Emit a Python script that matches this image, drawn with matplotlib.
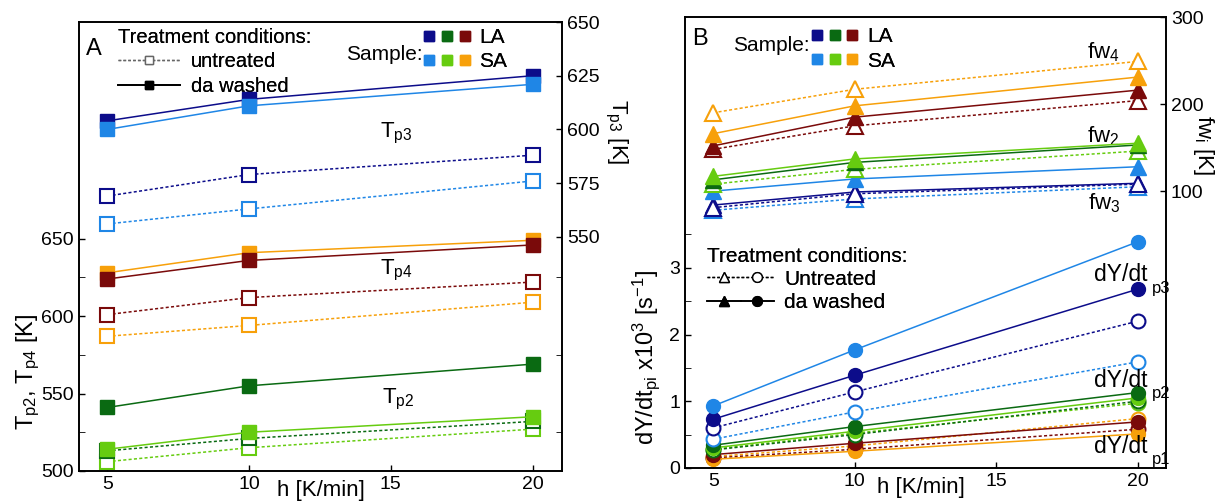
import matplotlib
matplotlib.use("Agg")
import matplotlib.pyplot as plt
from matplotlib.lines import Line2D
from matplotlib.legend_handler import HandlerTuple

plt.rcParams['font.family'] = ['Liberation Sans', 'DejaVu Sans']
plt.rcParams['mathtext.fontset'] = 'custom'
plt.rcParams['mathtext.rm'] = 'Liberation Sans'
plt.rcParams['mathtext.it'] = 'Liberation Sans'

# heating rates
h = [5, 10, 20]

# sample colours: LA (dark) and SA (light)
la_colors = ['#0c0c8a', '#0a6a12', '#7a0a0a']
sa_colors = ['#1f86e6', '#66cc10', '#f7a00a']

# Panel A: peak temperatures [K]
tp3_la_washed = [604, 614, 625]
tp3_sa_washed = [600, 611, 621]
tp3_la_untreated = [569, 579, 588]
tp3_sa_untreated = [556, 563, 576]
tp4_la_washed = [624, 636, 646]
tp4_sa_washed = [628, 641, 649]
tp4_la_untreated = [601, 612, 622]
tp4_sa_untreated = [587, 594, 609]
tp2_la_washed = [541, 555, 569]
tp2_sa_washed = [514, 525, 535]
tp2_la_untreated = [513, 521, 532]
tp2_sa_untreated = [506, 515, 527]

# Panel B: peak widths fw [K]
fw4_la_washed = [152, 185, 216]
fw4_sa_washed = [166, 198, 231]
fw4_la_untreated = [148, 175, 204]
fw4_sa_untreated = [190, 217, 249]
fw2_la_washed = [113, 133, 153]
fw2_sa_washed = [117, 137, 155]
fw2_sa_untreated = [108, 125, 146]
fw3_la_washed = [84, 99, 109]
fw3_sa_washed = [100, 114, 128]
fw3_la_untreated = [81, 97, 108]
fw3_sa_untreated = [78, 91, 105]

# Panel B: max rates dY/dt x10^3 [1/s]
dp3_la_washed = [0.73, 1.39, 2.68]
dp3_sa_washed = [0.93, 1.77, 3.39]
dp3_la_untreated = [0.60, 1.14, 2.20]
dp3_sa_untreated = [0.43, 0.84, 1.59]
dp2_la_washed = [0.34, 0.62, 1.13]
dp2_sa_washed = [0.30, 0.55, 1.05]
dp2_la_untreated = [0.27, 0.50, 1.00]
dp2_sa_untreated = [0.28, 0.52, 0.97]
dp1_la_washed = [0.20, 0.37, 0.69]
dp1_sa_washed = [0.13, 0.25, 0.51]
dp1_la_untreated = [0.15, 0.28, 0.58]
dp1_sa_untreated = [0.17, 0.33, 0.74]

FS = 14
LEG = 14.5
LFS = 16
MS = 10


def washed(ax, y, c, m, ms=MS):
    ax.plot(h, y, '-', color=c, lw=1.1, marker=m, ms=ms, mfc=c, mec=c, zorder=3)


def untreated(ax, y, c, m, ms=MS):
    ax.plot(h, y, linestyle=(0, (2, 1.5)), color=c, lw=1.1, marker=m, ms=ms,
            mfc='white', mec=c, mew=1.5, zorder=3)


def style(ax):
    ax.tick_params(direction='in', length=4, labelsize=FS, width=1)
    for s in ax.spines.values():
        s.set_linewidth(1.2)


def sample_legend(ax, anchor):
    sq = lambda c: Line2D([], [], linestyle='none', marker='s', ms=7.5, mfc=c, mec=c)
    hs = [tuple(sq(c) for c in la_colors), tuple(sq(c) for c in sa_colors)]
    return ax.legend(hs, ['LA', 'SA'], loc='upper left', bbox_to_anchor=anchor,
                     frameon=False, fontsize=LEG + 0.5, handlelength=2.3,
                     handletextpad=0.4, labelspacing=0.25, borderaxespad=0.1,
                     handler_map={tuple: HandlerTuple(ndivide=None, pad=0.25)})


fig = plt.figure(figsize=(12.24, 5.01), dpi=100)

# ---------------- Panel A ----------------
axA = fig.add_axes([0.0645, 0.060, 0.395, 0.896])
axA2 = axA.twinx()

untreated(axA, tp2_sa_untreated, sa_colors[1], 's')
untreated(axA, tp2_la_untreated, la_colors[1], 's')
washed(axA, tp2_sa_washed, sa_colors[1], 's')
washed(axA, tp2_la_washed, la_colors[1], 's')
untreated(axA, tp4_sa_untreated, sa_colors[2], 's')
untreated(axA, tp4_la_untreated, la_colors[2], 's')
washed(axA, tp4_sa_washed, sa_colors[2], 's')
washed(axA, tp4_la_washed, la_colors[2], 's')

untreated(axA2, tp3_sa_untreated, sa_colors[0], 's')
untreated(axA2, tp3_la_untreated, la_colors[0], 's')
washed(axA2, tp3_la_washed, la_colors[0], 's')
washed(axA2, tp3_sa_washed, sa_colors[0], 's')

axA.set_xlim(4, 21.05)
axA.set_ylim(500, 790)
axA.set_xticks([5, 10, 15, 20])
axA.set_yticks([500, 550, 600, 650])
axA.set_yticks([525, 575, 625], minor=True)
axA2.set_ylim(441, 650)
axA2.set_yticks([550, 575, 600, 625, 650])
style(axA)
style(axA2)
axA.tick_params(which='major', right=False)
axA.tick_params(which='minor', direction='in', length=4, left=True, right=True)

axA.set_xlabel('h [K/min]', fontsize=LFS)
axA.xaxis.set_label_coords(0.5, -0.02)
axA.set_ylabel(r'T$_{\mathregular{p2}}$, T$_{\mathregular{p4}}$ [K]', fontsize=LFS + 1)
axA.yaxis.set_label_coords(-0.077, 0.22)
axA2.set_ylabel(r'T$_{\mathregular{p3}}$ [K]', fontsize=LFS, rotation=270)
axA2.yaxis.set_label_coords(1.137, 0.755)

axA.text(0.015, 0.965, 'A', transform=axA.transAxes, fontsize=17, va='top')
axA.text(0.623, 0.744, r'T$_{\mathregular{p3}}$', transform=axA.transAxes, fontsize=LFS)
axA.text(0.623, 0.437, r'T$_{\mathregular{p4}}$', transform=axA.transAxes, fontsize=LFS)
axA.text(0.627, 0.151, r'T$_{\mathregular{p2}}$', transform=axA.transAxes, fontsize=LFS)

treat_A = [
    Line2D([], [], color='0.4', linestyle=(0, (2, 1.5)), lw=1, marker='s', ms=6,
           mfc='white', mec='0.4'),
    Line2D([], [], color='black', lw=1.3, marker='s', ms=6, mfc='black', mec='black'),
]
legA = axA.legend(treat_A, ['untreated', 'da washed'], title='Treatment conditions:',
                  loc='upper left', bbox_to_anchor=(0.06, 1.01), frameon=False,
                  fontsize=LEG, title_fontsize=LEG, handlelength=3.1,
                  handletextpad=0.5, labelspacing=0.28, borderaxespad=0.1,
                  alignment='left')
axA.add_artist(legA)

legS = sample_legend(axA2, (0.69, 1.01))
axA2.add_artist(legS)
axA2.text(0.552, 0.915, 'Sample:', transform=axA2.transAxes, fontsize=LEG + 0.5)

# ---------------- Panel B ----------------
axB = fig.add_axes([0.5596, 0.066, 0.393, 0.900])
axB2 = axB.twinx()

untreated(axB, dp1_sa_untreated, sa_colors[2], 'o')
untreated(axB, dp1_la_untreated, la_colors[2], 'o')
washed(axB, dp1_sa_washed, sa_colors[2], 'o')
washed(axB, dp1_la_washed, la_colors[2], 'o')
untreated(axB, dp2_sa_untreated, sa_colors[1], 'o')
untreated(axB, dp2_la_untreated, la_colors[1], 'o')
washed(axB, dp2_sa_washed, sa_colors[1], 'o')
washed(axB, dp2_la_washed, la_colors[1], 'o')
untreated(axB, dp3_sa_untreated, sa_colors[0], 'o')
untreated(axB, dp3_la_untreated, la_colors[0], 'o')
washed(axB, dp3_la_washed, la_colors[0], 'o')
washed(axB, dp3_sa_washed, sa_colors[0], 'o')

untreated(axB2, fw3_sa_untreated, sa_colors[0], '^', 11)
washed(axB2, fw3_la_washed, la_colors[0], '^', 11)
untreated(axB2, fw3_la_untreated, la_colors[0], '^', 11)
washed(axB2, fw3_sa_washed, sa_colors[0], '^', 11)
untreated(axB2, fw2_sa_untreated, sa_colors[1], '^', 11)
washed(axB2, fw2_la_washed, la_colors[1], '^', 11)
washed(axB2, fw2_sa_washed, sa_colors[1], '^', 11)
untreated(axB2, fw4_la_untreated, la_colors[2], '^', 11)
washed(axB2, fw4_la_washed, la_colors[2], '^', 11)
washed(axB2, fw4_sa_washed, sa_colors[2], '^', 11)
untreated(axB2, fw4_sa_untreated, sa_colors[2], '^', 11)

axB.set_xlim(4, 21)
axB.set_ylim(0, 6.76)
axB.set_xticks([5, 10, 15, 20])
axB.set_yticks([0, 1, 2, 3])
axB.set_yticks([0.5, 1.5, 2.5, 3.5], minor=True)
axB2.set_ylim(-218, 300)
axB2.set_yticks([100, 200, 300])
style(axB)
style(axB2)
axB.tick_params(which='minor', direction='in', length=4)

axB.set_xlabel('h [K/min]', fontsize=LFS)
axB.xaxis.set_label_coords(0.49, -0.02)
axB.set_ylabel(r'dY/dt$_{\mathregular{pi}}$ x10$^{\mathregular{3}}$ [s$^{\mathregular{-1}}$]',
               fontsize=LFS + 1)
axB.yaxis.set_label_coords(-0.048, 0.245)
axB2.set_ylabel(r'fw$_{\mathregular{i}}$ [K]', fontsize=LFS, rotation=270)
axB2.yaxis.set_label_coords(1.104, 0.716)

axB.text(0.015, 0.975, 'B', transform=axB.transAxes, fontsize=17, va='top')
axB.text(0.836, 0.922, r'fw$_{\mathregular{4}}$', transform=axB.transAxes,
         fontsize=LFS, va='center')
axB.text(0.836, 0.735, r'fw$_{\mathregular{2}}$', transform=axB.transAxes,
         fontsize=LFS, va='center')
axB.text(0.838, 0.587, r'fw$_{\mathregular{3}}$', transform=axB.transAxes,
         fontsize=LFS, va='center')
for yt, ys, sub in [(0.428, 0.397, 'p3'), (0.195, 0.166, 'p2'), (0.047, 0.018, 'p1')]:
    axB.text(0.962, yt, 'dY/dt', transform=axB.transAxes, fontsize=16.5,
             ha='right', va='center')
    axB.text(0.971, ys, sub, transform=axB.transAxes, fontsize=12, va='center')

ut = Line2D([], [], color='black', linestyle=(0, (2, 1.5)), lw=1, marker='^', ms=7,
            mfc='white', mec='black')
uc = Line2D([], [], color='black', linestyle=(0, (2, 1.5)), lw=1, marker='o', ms=7,
            mfc='white', mec='black')
wt = Line2D([], [], color='black', lw=1.2, marker='^', ms=7, mfc='black', mec='black')
wc = Line2D([], [], color='black', lw=1.2, marker='o', ms=7, mfc='black', mec='black')
legB = axB.legend([(ut, uc), (wt, wc)], ['Untreated', 'da washed'],
                  title='Treatment conditions:', loc='upper left',
                  bbox_to_anchor=(0.025, 0.514), frameon=False, fontsize=LEG + 0.5,
                  title_fontsize=LEG + 0.5, handlelength=3.2, handletextpad=0.5,
                  labelspacing=0.2, borderaxespad=0.1, alignment='left',
                  handler_map={tuple: HandlerTuple(ndivide=None, pad=0)})
axB.add_artist(legB)

legS2 = sample_legend(axB2, (0.24, 1.0))
axB2.add_artist(legS2)
axB2.text(0.1, 0.925, 'Sample:', transform=axB2.transAxes, fontsize=LEG + 0.5)

fig.savefig('out.png', dpi=100)
